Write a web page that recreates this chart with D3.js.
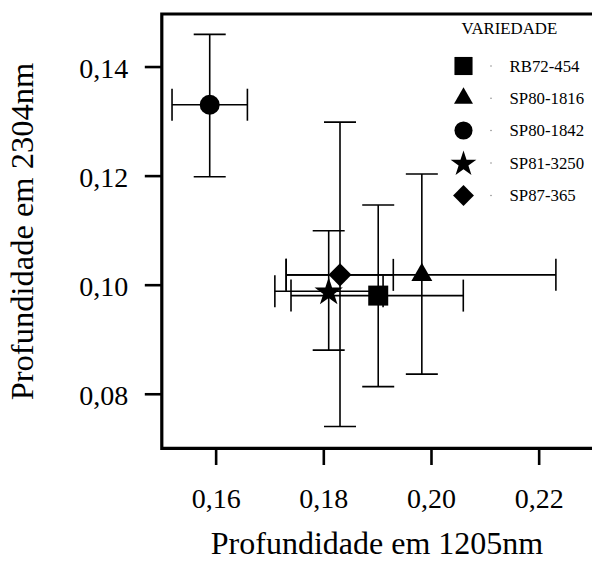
<!DOCTYPE html>
<html><head><meta charset="utf-8">
<script src="https://cdn.jsdelivr.net/npm/d3@7"></script>
<style>html,body{margin:0;padding:0;background:#fff;overflow:hidden}svg{display:block}text{font-family:"Liberation Serif","Times New Roman",serif;fill:#000}</style>
</head><body>
<script>
const varieties = ["RB72-454","SP80-1816","SP80-1842","SP81-3250","SP87-365"];
const symbols   = ["square","triangle","circle","star","diamond"];
const xMean = [0.1902, 0.1983, 0.1589, 0.1810, 0.1831];
const xLow  = [0.1740, 0.1731, 0.1519, 0.1710, 0.1731];
const xHigh = [0.2060, 0.2232, 0.1659, 0.1911, 0.1930];
const yMean = [0.0980, 0.1018, 0.1330, 0.0988, 0.1018];
const yLow  = [0.0813, 0.0836, 0.1198, 0.0880, 0.0740];
const yHigh = [0.1146, 0.1203, 0.1459, 0.1099, 0.1298];
const xTicks = [0.16, 0.18, 0.20, 0.22];
const yTicks = [0.08, 0.10, 0.12, 0.14];
const xTitle = "Profundidade em 1205nm";
const yTitle = "Profundidade em 2304nm";
const legendTitle = "VARIEDADE";

const W = 592, H = 561;
const svg = d3.select("body").append("svg").attr("width", W).attr("height", H);
const x = d3.scaleLinear().domain([0.15, 0.23]).range([161.8, 592.5]);
const y = d3.scaleLinear().domain([0.07, 0.15]).range([448.3, 12.0]);
const fmt = d => d.toFixed(2).replace(".", ",");

// axes
const gx = svg.append("g").attr("transform", "translate(0,448)")
  .call(d3.axisBottom(x).tickValues(xTicks).tickSize(17).tickSizeOuter(0).tickFormat(fmt));
gx.select(".domain").remove();
gx.selectAll(".tick line").attr("stroke", "#000").attr("stroke-width", 2.6);
gx.selectAll(".tick text").attr("font-size", 28).attr("y", 0).attr("dy", 0)
  .attr("transform", "translate(0,60)").style("font-family", '"Liberation Serif",serif');

const gy = svg.append("g").attr("transform", "translate(161.8,0)")
  .call(d3.axisLeft(y).tickValues(yTicks).tickSize(17).tickSizeOuter(0).tickFormat(fmt));
gy.select(".domain").remove();
gy.selectAll(".tick line").attr("stroke", "#000").attr("stroke-width", 2.6);
gy.selectAll(".tick text").attr("font-size", 28).attr("x", -33.5).attr("dy", 11)
  .style("font-family", '"Liberation Serif",serif');

// frame
const fr = svg.append("g").attr("fill", "none").attr("stroke", "#000").attr("stroke-width", 3.2);
fr.append("path").attr("d", d3.line()([[x(0.23)+2, y(0.15)+2], [x(0.15), y(0.15)+2], [x(0.15), y(0.07)], [x(0.23)+2, y(0.07)]]))
  .attr("stroke-linecap", "square");

// titles
svg.append("text").attr("x", 377).attr("y", 554).attr("text-anchor", "middle")
  .attr("font-size", 32).text(xTitle);
svg.append("text").attr("transform", "translate(33,231.5) rotate(-90)").attr("text-anchor", "middle")
  .attr("font-size", 32.5).text(yTitle);

// error bars
const data = varieties.map((v, i) => ({v, s: symbols[i], x: xMean[i], y: yMean[i],
  xl: xLow[i], xh: xHigh[i], yl: yLow[i], yh: yHigh[i]}));
const cap = 16;
const eb = svg.append("g").attr("stroke", "#000").attr("stroke-width", 1.6).attr("fill", "none");
data.forEach(d => {
  const px = x(d.x), py = y(d.y);
  eb.append("line").attr("x1", px).attr("x2", px).attr("y1", y(d.yl)).attr("y2", y(d.yh));
  eb.append("line").attr("x1", px - cap).attr("x2", px + cap).attr("y1", y(d.yl)).attr("y2", y(d.yl));
  eb.append("line").attr("x1", px - cap).attr("x2", px + cap).attr("y1", y(d.yh)).attr("y2", y(d.yh));
  eb.append("line").attr("x1", x(d.xl)).attr("x2", x(d.xh)).attr("y1", py).attr("y2", py);
  eb.append("line").attr("x1", x(d.xl)).attr("x2", x(d.xl)).attr("y1", py - cap).attr("y2", py + cap);
  eb.append("line").attr("x1", x(d.xh)).attr("x2", x(d.xh)).attr("y1", py - cap).attr("y2", py + cap);
});

function symPath(s, scale) {
  const k = scale || 1;
  if (s === "square") return {p: d3.symbol(d3.symbolSquare, 400 * k)(), r: 0, dy: 0};
  if (s === "triangle") return {p: d3.symbol(d3.symbolTriangle, 190 * k)(), r: 0, dy: 0};
  if (s === "circle") return {p: d3.symbol(d3.symbolCircle, 314 * k)(), r: 0, dy: 0};
  if (s === "star") return {p: d3.symbol(d3.symbolStar, 250 * k)(), r: 0, dy: 1};
  return {p: d3.symbol(d3.symbolSquare, 265 * k)(), r: 45, dy: 0};
}

svg.append("g").selectAll("path").data(data).join("path")
  .attr("d", d => symPath(d.s).p)
  .attr("transform", d => `translate(${x(d.x)},${y(d.y) + symPath(d.s).dy}) rotate(${symPath(d.s).r})`)
  .attr("fill", "#000");

// legend
const lg = svg.append("g");
lg.append("text").attr("x", 461.5).attr("y", 34).attr("font-size", 16.8).text(legendTitle);
const rowY = [66, 98.3, 130.5, 163, 195.5];
data.forEach((d, i) => {
  const sp = symPath(d.s, 0.82);
  lg.append("path").attr("d", sp.p).attr("fill", "#000")
    .attr("transform", `translate(463.5,${rowY[i] + sp.dy}) rotate(${sp.r})`);
  lg.append("circle").attr("cx", 491).attr("cy", rowY[i]).attr("r", 0.7).attr("fill", "#777");
  lg.append("text").attr("x", 509.5).attr("y", rowY[i] + 5.8).attr("font-size", 16.8).text(d.v);
});
</script>
</body></html>
